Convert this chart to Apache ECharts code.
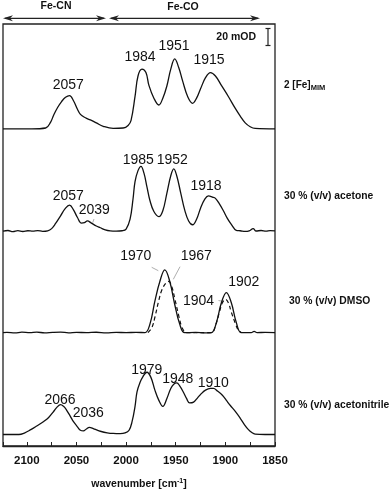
<!DOCTYPE html>
<html>
<head>
<meta charset="utf-8">
<script src="https://cdn.jsdelivr.net/npm/echarts@6/dist/echarts.min.js"></script>
<style>
  html, body { margin: 0; padding: 0; background: #fff; }
  #main { width: 392px; height: 495px; }
</style>
</head>
<body>
<div id="main"></div>
<script>
// spectra: wavenumber [cm-1] and absorbance [mOD]
var wnMim = [2124, 2095, 2081, 2076, 2073, 2069, 2065, 2061, 2057, 2053, 2049, 2046, 2041, 2036, 2030, 2023, 2013, 2003, 1998, 1995,
  1991, 1988, 1984, 1980, 1977, 1972, 1967, 1963, 1959, 1955, 1951, 1947, 1943, 1938, 1933, 1929, 1925, 1920, 1915, 1910,
  1904, 1897, 1890, 1885, 1880, 1875, 1870, 1850];
var absMim = [0, 0, 1, 8, 16, 25, 32, 37, 39, 33, 23, 17, 13, 10.5, 7, 3, 0.5, 1, 4, 10,
  38, 62, 70, 66, 51, 36, 28, 36, 50, 70, 82, 72, 56, 38, 30, 36, 47, 60, 66, 62,
  51, 38, 24, 15, 7, 2.5, 0.5, 0];

var wnAcetone = [2124, 2119, 2114, 2109, 2104, 2099, 2094, 2089, 2084, 2079, 2075, 2071, 2066, 2061, 2057, 2053, 2049, 2045, 2042, 2039,
  2035, 2030, 2026, 2021, 2016, 2010, 2004, 2000, 1996, 1993, 1991, 1988, 1985, 1982, 1979, 1976, 1972, 1967, 1963, 1959,
  1955, 1952, 1949, 1945, 1941, 1937, 1933, 1929, 1925, 1921, 1917, 1913, 1910, 1906, 1902, 1898, 1894, 1889, 1885, 1880,
  1876, 1872, 1869, 1864, 1859, 1855, 1850];
var absAcetone = [0, 0.8, -0.5, 0.6, -0.4, 0.5, 0, 0.7, -0.3, 0.3, 3, 9, 18, 27, 30.5, 25, 16, 9.5, 10, 12,
  9.5, 6, 4, 1.5, 0.3, 0, 0.5, 2.5, 14, 38, 58, 71, 76, 68, 52, 36, 23, 17, 24, 44,
  65, 73, 65, 45, 25, 12, 7.5, 14, 27, 37, 41.5, 40, 38.5, 32, 24, 15, 8, 1, 0.5, -0.3,
  0.4, 3, 0.2, 0.8, 0, 0.6, 0.3];

var wnDmso = [2124, 2120, 2112, 2105, 2097, 2090, 2082, 2074, 2066, 2058, 2050, 2040, 2030, 2020, 2010, 2000, 1990, 1981, 1976, 1971,
  1966, 1961, 1956, 1951, 1946, 1941, 1930, 1920, 1914, 1909, 1904, 1899, 1894, 1889, 1884, 1874, 1871, 1868, 1860, 1850];
var absDmso = [0, 0.3, -0.4, 0.5, 0, 0.6, -0.3, 0.3, 0.6, -0.2, 0.3, 0, 0.4, -0.2, 0.3, 0, 0.3, 0, 10, 37,
  60, 73.6, 60, 33, 10, 0, 0.2, -0.2, 0, 12, 35, 47, 35, 12, 0, 0, 1.5, 0, 0.3, 0];

// DMSO, second (dashed) trace
var wnDmso2 = [1978, 1974, 1971, 1967, 1964, 1960, 1957, 1954, 1951, 1947, 1944, 1941, 1939, 1914, 1910, 1906, 1903, 1900, 1897, 1894,
  1890, 1887, 1884];
var absDmso2 = [0, 6, 18, 38, 50, 58, 60, 54, 40, 20, 7, 1, 0, 0, 8, 24, 35, 39, 35, 24,
  11, 3, 0];

var wnAcn = [2124, 2108, 2102, 2096, 2090, 2083, 2078, 2073, 2070, 2066, 2063, 2060, 2056, 2053, 2049, 2046, 2043, 2040, 2037, 2033,
  2029, 2026, 2019, 2013, 2006, 2001, 1997, 1994, 1991, 1989, 1986, 1983, 1979, 1975, 1971, 1967, 1963, 1959, 1955, 1952,
  1949, 1946, 1942, 1939, 1936, 1932, 1928, 1925, 1920, 1915, 1912, 1908, 1903, 1899, 1895, 1890, 1885, 1881, 1877, 1873,
  1870, 1860, 1850];
var absAcn = [0, 0, 2, 5.7, 10, 15.3, 20, 27, 31.5, 35, 33, 28.7, 21, 15, 9, 5, 4.2, 6.5, 8.4, 7,
  5, 3.8, 2, 1.2, 1, 1.8, 5, 15, 33, 50, 61, 68, 73, 67, 52, 40, 33, 42, 54, 59,
  60.5, 57, 49, 42, 37, 38, 43, 47, 52, 54, 54, 51, 46, 40, 34, 27, 19, 12, 6, 2,
  0.5, 0, 0];

var xTicks = [2100, 2050, 2000, 1950, 1900, 1850];
var sampleNames = ['2 [Fe]MIM', '30 % (v/v) acetone', '30 % (v/v) DMSO', '30 % (v/v) acetonitrile'];

// vertical stacking of the traces (mOD)
var offMim = 372, offAcetone = 252, offDmso = 133, offAcn = 13.5;

function stack(wn, ab, off) {
  return wn.map(function (w, i) { return [w, ab[i] + off]; });
}

var FONT = '"Liberation Sans", Arial, sans-serif';
var INK = '#111';

function txt(s, x, y, size, bold, align) {
  return {
    type: 'text', x: x, y: y, silent: true,
    style: {
      text: s, fill: INK, fontFamily: FONT, fontSize: size,
      fontWeight: bold ? 'bold' : 'normal',
      align: align || 'center', verticalAlign: 'middle',
      textAlign: align || 'center', textVerticalAlign: 'middle'
    }
  };
}
function seg(x1, y1, x2, y2, color, w) {
  return { type: 'line', silent: true, shape: { x1: x1, y1: y1, x2: x2, y2: y2 },
    style: { stroke: color || '#222', lineWidth: w || 1.2 } };
}
function head(x, y, dir) {
  // dir -1 points left, 1 points right
  return { type: 'polygon', silent: true,
    shape: { points: [[x, y], [x - dir * 10, y - 3], [x - dir * 7, y], [x - dir * 10, y + 3]] },
    style: { fill: '#222' } };
}

var lineStyle = { color: INK, width: 1.3 };

var option = {
  animation: false,
  grid: { left: 3, right: 117, top: 24, bottom: 40, show: true, borderColor: '#222', borderWidth: 1.3 },
  xAxis: {
    type: 'value', inverse: true, min: 1850, max: 2124, interval: 25,
    axisLine: { show: true, lineStyle: { color: '#222', width: 1.3 } },
    axisTick: { inside: true, length: 4, lineStyle: { color: '#222' } },
    splitLine: { show: false },
    axisLabel: {
      formatter: function (v) { return xTicks.indexOf(v) >= 0 ? String(v) : ''; },
      fontFamily: FONT, fontWeight: 'bold', fontSize: 11.5, color: INK, margin: 9
    },
    name: 'wavenumber [cm{s|-1}]',
    nameLocation: 'middle', nameGap: 32,
    nameTextStyle: {
      fontFamily: FONT, fontWeight: 'bold', fontSize: 10.5, color: INK,
      rich: { s: { fontFamily: FONT, fontWeight: 'bold', fontSize: 7, color: INK, padding: [0, 0, 6, 0] } }
    }
  },
  yAxis: { type: 'value', show: false, min: 0, max: 495 },
  series: [
    { type: 'line', data: stack(wnMim, absMim, offMim), smooth: 0.4, showSymbol: false, lineStyle: lineStyle },
    { type: 'line', data: stack(wnAcetone, absAcetone, offAcetone), smooth: 0.4, showSymbol: false, lineStyle: lineStyle },
    { type: 'line', data: stack(wnDmso, absDmso, offDmso), smooth: 0.4, showSymbol: false, lineStyle: lineStyle },
    { type: 'line', data: stack(wnDmso2, absDmso2, offDmso), smooth: 0.4, showSymbol: false,
      lineStyle: { color: INK, width: 1.2, type: [4, 3] } },
    { type: 'line', data: stack(wnAcn, absAcn, offAcn), smooth: 0.4, showSymbol: false, lineStyle: lineStyle }
  ],
  graphic: [
    // region arrows
    txt('Fe-CN', 56, 6, 10.5, true),
    txt('Fe-CO', 183, 7, 10.5, true),
    seg(5, 18.3, 104, 18.3, '#222', 1.2), head(3, 18.3, -1), head(106, 18.3, 1),
    seg(111, 18.3, 258, 18.3, '#222', 1.2), head(109, 18.3, -1), head(260, 18.3, 1),
    // scale bar
    txt('20 mOD', 256, 37.5, 10.5, true, 'right'),
    seg(268, 28.5, 268, 45.5, '#222', 1.2), seg(265.5, 28.5, 270.5, 28.5, '#222', 1.2), seg(265.5, 45.5, 270.5, 45.5, '#222', 1.2),
    // sample names
    {
      type: 'text', x: 284, y: 85, silent: true,
      style: {
        text: '{a|2 [Fe]}{s|MIM}', align: 'left', verticalAlign: 'middle', textAlign: 'left', textVerticalAlign: 'middle',
        rich: {
          a: { fontFamily: FONT, fontWeight: 'bold', fontSize: 10, fill: INK, color: INK },
          s: { fontFamily: FONT, fontWeight: 'bold', fontSize: 7.5, fill: INK, color: INK, padding: [6, 0, 0, 0] }
        }
      }
    },
    txt(sampleNames[1], 284, 196.5, 10.3, true, 'left'),
    txt(sampleNames[2], 289, 301, 10.3, true, 'left'),
    txt(sampleNames[3], 284, 405.5, 10.3, true, 'left'),
    // peak labels
    txt('2057', 68.3, 85, 14), txt('1984', 140, 57, 14), txt('1951', 174, 46, 14), txt('1915', 209, 60.5, 14),
    txt('2057', 68.3, 196.5, 14), txt('2039', 94.3, 210.5, 14), txt('1985', 138.3, 160, 14), txt('1952', 172.3, 160, 14),
    txt('1918', 206, 186.5, 14),
    txt('1970', 135.8, 255.7, 14), txt('1967', 196.2, 255.7, 14), txt('1904', 198.5, 301, 14), txt('1902', 243.8, 282.3, 14),
    txt('1979', 146.7, 370, 14), txt('1948', 177.7, 379, 14), txt('1910', 213.3, 383.3, 14),
    txt('2066', 60, 400, 14), txt('2036', 88.3, 413.3, 14),
    // leader lines
    seg(94, 219, 92.7, 222.7, '#999', 0.8),
    seg(151.7, 267.3, 158.3, 270.7, '#999', 0.8),
    seg(180, 266.7, 173.3, 279.3, '#999', 0.8),
    seg(218.5, 300.5, 223.5, 301.5, '#999', 0.8)
  ]
};

var chart = echarts.init(document.getElementById('main'));
chart.setOption(option);
</script>
</body>
</html>
